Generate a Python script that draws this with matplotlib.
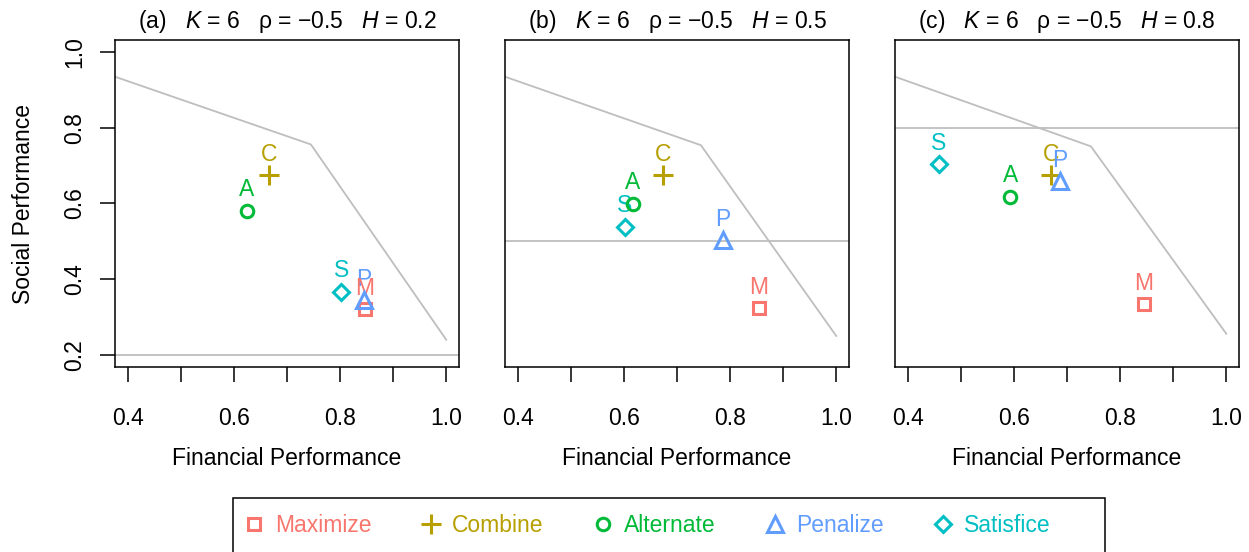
import numpy as np
import matplotlib
matplotlib.use("Agg")
import matplotlib.pyplot as plt
from matplotlib.lines import Line2D
from matplotlib.patches import Rectangle

plt.rcParams['font.family'] = ['Liberation Sans', 'DejaVu Sans']
plt.rcParams['mathtext.fontset'] = 'custom'
plt.rcParams['mathtext.rm'] = 'Liberation Sans'
plt.rcParams['mathtext.it'] = 'Liberation Sans:italic'

# strategies, in the order M, C, A, P, S
strategies = ['Maximize', 'Combine', 'Alternate', 'Penalize', 'Satisfice']
letters = ['M', 'C', 'A', 'P', 'S']
colors = ['#F8766D', '#B79F00', '#00BA38', '#619CFF', '#00BFC4']
markers = ['s', '+', 'o', '^', 'D']

panel_tags = ['(a)', '(b)', '(c)']
K = 6
rho = '\u22120.5'
H_values = [0.2, 0.5, 0.8]

# financial / social performance per strategy
fin_a = [0.847, 0.666, 0.624, 0.845, 0.802]
soc_a = [0.320, 0.675, 0.581, 0.344, 0.367]
fin_b = [0.854, 0.674, 0.617, 0.786, 0.602]
soc_b = [0.323, 0.675, 0.599, 0.503, 0.538]
fin_c = [0.845, 0.670, 0.593, 0.687, 0.459]
soc_c = [0.334, 0.674, 0.618, 0.659, 0.704]

# efficient frontier
frontier_x = [0.376, 0.745, 1.0]
frontier_y_a = [0.935, 0.756, 0.240]
frontier_y_b = [0.935, 0.754, 0.250]
frontier_y_c = [0.935, 0.751, 0.256]

x_ticks = [0.4, 0.5, 0.6, 0.7, 0.8, 0.9, 1.0]
x_ticklabels = ['0.4', '', '0.6', '', '0.8', '', '1.0']
y_ticks = [0.2, 0.4, 0.6, 0.8, 1.0]
y_ticklabels = ['0.2', '0.4', '0.6', '0.8', '1.0']

fins = [fin_a, fin_b, fin_c]
socs = [soc_a, soc_b, soc_c]
frontiers = [frontier_y_a, frontier_y_b, frontier_y_c]

msize = {'s': 8.5, '+': 14, 'o': 9, '^': 11.5, 'D': 8.5}
fs = 16.5
W, Hh = 1249, 552

fig = plt.figure(figsize=(W / 100, Hh / 100), dpi=100)
lefts = [115, 505, 895]
for i in range(3):
    ax = fig.add_axes([lefts[i] / W, 1 - 367 / Hh, 344 / W, 327 / Hh])
    ax.set_xlim(0.376, 1.024)
    ax.set_ylim(0.168, 1.032)
    ax.plot(frontier_x, frontiers[i], color='#BEBEBE', lw=1.3, zorder=1)
    ax.axhline(H_values[i], color='#BEBEBE', lw=1.3, zorder=1)

    # labels first, then points on top
    for j in [2, 4, 1, 3, 0]:
        ax.annotate(letters[j], (fins[i][j], socs[i][j]), xytext=(0, 10.5),
                    textcoords='offset points', ha='center', va='baseline',
                    color=colors[j], fontsize=fs, zorder=3)
    for j in [0, 1, 2, 4, 3]:
        ax.plot(fins[i][j], socs[i][j], marker=markers[j], ms=msize[markers[j]],
                mfc='none', mec=colors[j], mew=2.2, ls='none', zorder=4)

    title = (panel_tags[i] + '   $K$ = ' + str(K) + '   \u03c1 = ' + rho
             + '   $H$ = ' + str(H_values[i]))
    ax.set_title(title, fontsize=fs, pad=8.4)

    for s in ax.spines.values():
        s.set_linewidth(1.1)
    ax.set_xticks(x_ticks)
    ax.set_xticklabels(x_ticklabels)
    ax.tick_params(axis='x', length=11, width=1.1, pad=18, labelsize=fs)
    ax.set_xlabel('Financial Performance', fontsize=fs)
    ax.xaxis.label.set_va('center')
    ax.xaxis.set_label_coords(0.5, -0.28)
    if i == 0:
        ax.set_yticks(y_ticks)
        ax.set_yticklabels(y_ticklabels, rotation=90, va='center')
        ax.tick_params(axis='y', length=11, width=1.1, pad=10, labelsize=fs)
        ax.set_ylabel('Social Performance', fontsize=fs)
        ax.yaxis.label.set_va('center')
        ax.yaxis.set_label_coords(-0.266, 0.5)
    else:
        ax.tick_params(axis='y', left=False, labelleft=False)

handles = [Line2D([], [], marker=markers[j], ms=msize[markers[j]], mfc='none',
                  mec=colors[j], mew=2.2, ls='none') for j in range(5)]
leg = fig.legend(handles, strategies, ncol=5, frameon=False, loc='center left',
                 bbox_to_anchor=(242.5 / W, 1 - 526 / Hh), borderpad=0,
                 borderaxespad=0, handlelength=1.0, handletextpad=0.41,
                 columnspacing=2.1, fontsize=fs, labelcolor=colors)
fig.add_artist(Rectangle((233 / W, -0.05), 872 / W, (Hh - 498) / Hh + 0.05,
                         transform=fig.transFigure, fill=False, ec='black',
                         lw=1.1, clip_on=False))

fig.savefig('out.png', dpi=100)
